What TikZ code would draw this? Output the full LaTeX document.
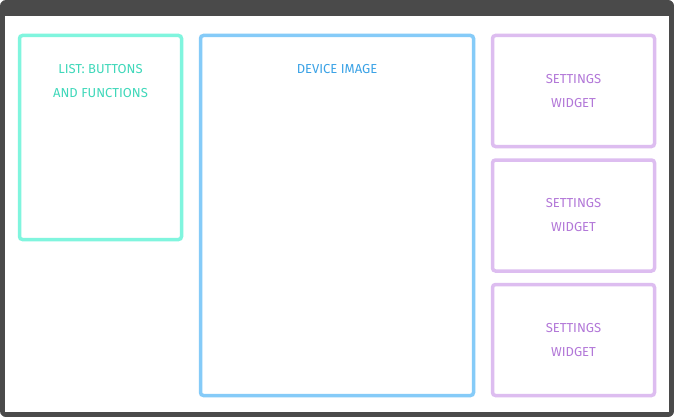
\documentclass[tikz,border=0pt]{standalone}
\usepackage{fontspec}
\setmainfont{Fira Sans}
\usetikzlibrary{positioning}
\definecolor{frame}{HTML}{4A4A4A}
\definecolor{listc}{HTML}{80F5DE}
\definecolor{listt}{HTML}{3FD8BA}
\definecolor{devc}{HTML}{85CBF8}
\definecolor{devt}{HTML}{3AA2E6}
\definecolor{setc}{HTML}{DDBDF0}
\definecolor{sett}{HTML}{B277D8}
\tikzset{
  panel/.style={draw, line width=3.5pt, rounded corners=3pt, anchor=north west,
    inner sep=0pt, outer sep=0pt, align=center, font=\fontsize{13}{24}\selectfont},
  widget/.style={panel, draw=setc, text=sett, minimum width=162pt, minimum height=111pt}
}
\begin{document}
\begin{tikzpicture}[x=1pt,y=-1pt]
  \useasboundingbox (0,0) rectangle (674,417);
  \fill[frame, rounded corners=6pt] (0,0) rectangle (674,417);
  \fill[white] (5,16) rectangle (669,412);
  % left list
  \node[panel, draw=listc, text=listt, minimum width=162pt, minimum height=204pt] (list) at (19.5,35.5) {};
  \node[text=listt, align=center, font=\fontsize{13}{24}\selectfont] (listlabel) at (100.5,81) {LIST: BUTTONS\\AND FUNCTIONS};
  % device
  \node[panel, draw=devc, minimum width=273pt, minimum height=360pt] (device) at (200.5,35.5) {};
  \node[text=devt, font=\fontsize{13}{15}\selectfont] (devlabel) at (337,69) {DEVICE IMAGE};
  % settings widgets
  \node[widget] (set1) at (492.5,35.5) {SETTINGS\\WIDGET};
  \node[widget] (set2) at (492.5,160) {SETTINGS\\WIDGET};
  \node[widget] (set3) at (492.5,284.5) {SETTINGS\\WIDGET};
\end{tikzpicture}
\end{document}
